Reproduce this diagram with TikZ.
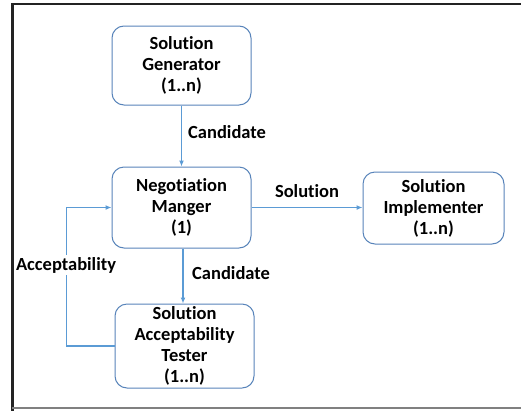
\documentclass[tikz,border=0pt]{standalone}
\usepackage{fontspec}
\setmainfont{Carlito}[Ligatures=NoCommon]
\usetikzlibrary{arrows.meta}
\definecolor{boxblue}{RGB}{88,132,186}
\definecolor{lineblue}{RGB}{91,155,213}
\definecolor{framegray}{RGB}{35,35,35}
\begin{document}
\begin{tikzpicture}[x=1pt,y=-1pt,
  block/.style={draw=boxblue, line width=1pt, rounded corners=12pt, align=center,
    font=\bfseries\fontsize{18.5}{21}\selectfont, inner sep=0pt},
  flow/.style={draw=lineblue, line width=1.5pt, -{Latex[length=6pt,width=5pt]}},
  lbl/.style={font=\bfseries\fontsize{18.5}{21}\selectfont, inner sep=1pt}]
\useasboundingbox (0,0) rectangle (521,410);
\fill[white] (0,0) rectangle (521,410);
% outer frame
\draw[line width=2.5pt, framegray] (12.5,412) -- (12.5,4) -- (525,4);
\draw[line width=1.5pt, gray] (12,408) -- (525,408);

% components
\node[block, minimum width=139pt, minimum height=79pt] (gen) at (181.5,65.5)
  {Solution\\Generator\\(1..n)};
\node[block, minimum width=139pt, minimum height=81pt] (mgr) at (181.5,207.5)
  {Negotiation\\Manger\\(1)};
\node[block, minimum width=141pt, minimum height=72pt] (impl) at (433.5,208)
  {Solution\\Implementer\\(1..n)};
\node[block, minimum width=139pt, minimum height=84pt] (tester) at (184.5,346)
  {Solution\\Acceptability\\Tester\\(1..n)};

% flows
\draw[flow] (gen) -- (mgr);
\node[lbl, anchor=west] (cand1) at (187,132) {Candidate};

\draw[flow] ([xshift=1.5pt]mgr.south) -- ([xshift=1.5pt]mgr.south |- tester.north);
\node[lbl, anchor=west] (cand2) at (191,273) {Candidate};

\draw[flow] (mgr.east) -- (mgr.east -| impl.west);
\node[lbl] (sol) at (307,191) {Solution};

\draw[flow] (tester.west) -- ++(-48,0) |- (mgr.west);
\node[lbl, fill=white, inner sep=2pt] (acc) at (66,265) {Acceptability};
\end{tikzpicture}
\end{document}
